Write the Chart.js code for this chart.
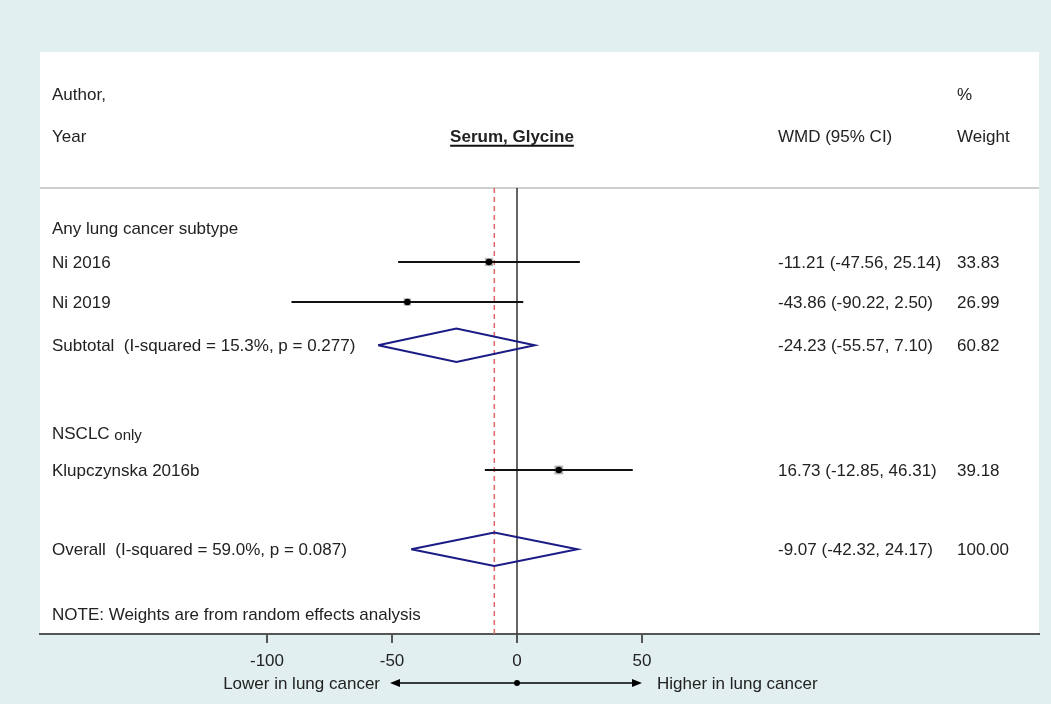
<!DOCTYPE html>
<html>
<head>
<meta charset="utf-8">
<script src="https://cdn.jsdelivr.net/npm/chart.js@4/dist/chart.umd.min.js"></script>
<style>
  html, body { margin:0; padding:0; background:#e2eff0; }
  #wrap { width:1051px; height:704px; position:relative; }
</style>
</head>
<body>
<div id="wrap"><canvas id="forest"></canvas></div>
<script>
// Forest plot: serum glycine, WMD (95% CI)
const studyLabels = ['Ni 2016', 'Ni 2019', 'Klupczynska 2016b'];
const studyEst    = [-11.21, -43.86, 16.73];
const studyLo     = [-47.56, -90.22, -12.85];
const studyHi     = [25.14, 2.50, 46.31];
const studyWeight = [33.83, 26.99, 39.18];
const studyRow    = [0.85, 1.85, 6.05];

const pooledLabels = ['Subtotal  (I-squared = 15.3%, p = 0.277)', 'Overall  (I-squared = 59.0%, p = 0.087)'];
const pooledEst    = [-24.23, -9.07];
const pooledLo     = [-55.57, -42.32];
const pooledHi     = [7.10, 24.17];
const pooledWeight = [60.82, 100.00];
const pooledRow    = [2.93, 8.03];

const groupLabels = ['Any lung cancer subtype', 'NSCLC only'];
const groupRow    = [0, 5.13];

const xTicks = [-100, -50, 0, 50];

const FONT = '"Liberation Sans", Arial, sans-serif';
const TXT = '#222';
const overall = pooledEst[pooledEst.length - 1];

const datasets = [];
// CI whiskers
studyLabels.forEach((s, i) => {
  datasets.push({ data:[{x:studyLo[i], y:studyRow[i]}, {x:studyHi[i], y:studyRow[i]}],
    showLine:true, borderColor:'#111', borderWidth:2, pointRadius:0, order:4 });
});
// weight squares
datasets.push({ data: studyEst.map((v,i)=>({x:v, y:studyRow[i]})), pointStyle:'rect',
  pointRadius: studyWeight.map(w=>Math.sqrt(w)*1.0), backgroundColor:'#b4b4b4', borderWidth:0, order:5 });
// point estimates
datasets.push({ data: studyEst.map((v,i)=>({x:v, y:studyRow[i]})), pointRadius:3.2,
  backgroundColor:'#000', borderWidth:0, order:1 });
// pooled diamonds
pooledEst.forEach((v, i) => {
  const r = pooledRow[i], h = 0.42;
  datasets.push({ data:[{x:pooledLo[i], y:r}, {x:v, y:r-h}, {x:pooledHi[i], y:r}, {x:v, y:r+h}, {x:pooledLo[i], y:r}],
    showLine:true, borderColor:'#1b1b86', borderWidth:2, pointRadius:0, order:2 });
});
// null line and overall line
datasets.push({ data:[{x:0, y:-1}, {x:0, y:10.15}], showLine:true, borderColor:'#333', borderWidth:1.5, pointRadius:0, order:6 });
datasets.push({ data:[{x:overall, y:-1}, {x:overall, y:10.15}], showLine:true, borderColor:'#dd6666',
  borderWidth:1.5, borderDash:[5,4], pointRadius:0, order:7 });

const panelPlugin = {
  id:'panel',
  beforeDraw(chart){
    const {ctx, chartArea:a} = chart;
    ctx.save();
    ctx.fillStyle = '#fff';
    ctx.fillRect(a.left, a.top, a.right - a.left, a.bottom - a.top);
    // header separator
    const ys = chart.scales.y.getPixelForValue(-1);
    ctx.strokeStyle = '#cfcfcf'; ctx.lineWidth = 2;
    ctx.beginPath(); ctx.moveTo(a.left, ys); ctx.lineTo(a.right, ys); ctx.stroke();
    ctx.restore();
  }
};

const textPlugin = {
  id:'texts',
  afterDraw(chart){
    const {ctx, chartArea:a, scales:{x, y}} = chart;
    const colL = a.left + 12, colCI = 778, colW = 957;
    ctx.save();
    ctx.fillStyle = TXT;
    ctx.textBaseline = 'middle';
    ctx.font = '17px ' + FONT;
    const put = (t, px, row, align) => { ctx.textAlign = align || 'left'; ctx.fillText(t, px, y.getPixelForValue(row) + 1); };
    // header
    put('Author,', colL, -3.33);
    put('Year', colL, -2.28);
    put('%', colW, -3.33);
    put('Weight', colW, -2.28);
    put('WMD (95% CI)', colCI, -2.28);
    ctx.font = 'bold 17px ' + FONT;
    const title = 'Serum, Glycine';
    const tx = 512, ty = y.getPixelForValue(-2.28);
    put(title, tx, -2.28, 'center');
    const tw = ctx.measureText(title).width;
    ctx.strokeStyle = '#111'; ctx.lineWidth = 2;
    ctx.beginPath(); ctx.moveTo(tx - tw/2, ty + 9); ctx.lineTo(tx + tw/2, ty + 9); ctx.stroke();
    ctx.font = '17px ' + FONT;
    // groups
    put(groupLabels[0], colL, groupRow[0]);
    put('NSCLC', colL, groupRow[1]);
    const nw = ctx.measureText('NSCLC ').width;
    ctx.font = '15px ' + FONT;
    ctx.textAlign = 'left';
    ctx.fillText('only', colL + nw, y.getPixelForValue(groupRow[1]) + 3);
    ctx.font = '17px ' + FONT;
    // studies
    const ci = (e, l, h) => `${e.toFixed(2)} (${l.toFixed(2)}, ${h.toFixed(2)})`;
    studyLabels.forEach((s, i) => {
      put(s, colL, studyRow[i]);
      put(ci(studyEst[i], studyLo[i], studyHi[i]), colCI, studyRow[i]);
      put(studyWeight[i].toFixed(2), colW, studyRow[i]);
    });
    pooledLabels.forEach((s, i) => {
      put(s, colL, pooledRow[i]);
      put(ci(pooledEst[i], pooledLo[i], pooledHi[i]), colCI, pooledRow[i]);
      put(pooledWeight[i].toFixed(2), colW, pooledRow[i]);
    });
    put('NOTE: Weights are from random effects analysis', colL, 9.65);
    // direction arrow under the axis
    const ay = 683, x1 = x.getPixelForValue(-50) - 2, x2 = x.getPixelForValue(50), x0 = x.getPixelForValue(0);
    ctx.strokeStyle = '#000'; ctx.fillStyle = '#000'; ctx.lineWidth = 1.5;
    ctx.beginPath(); ctx.moveTo(x1 + 4, ay); ctx.lineTo(x2 - 4, ay); ctx.stroke();
    ctx.beginPath(); ctx.moveTo(x1, ay); ctx.lineTo(x1 + 10, ay - 4); ctx.lineTo(x1 + 10, ay + 4); ctx.closePath(); ctx.fill();
    ctx.beginPath(); ctx.moveTo(x2, ay); ctx.lineTo(x2 - 10, ay - 4); ctx.lineTo(x2 - 10, ay + 4); ctx.closePath(); ctx.fill();
    ctx.beginPath(); ctx.arc(x0, ay, 3, 0, Math.PI*2); ctx.fill();
    ctx.fillStyle = TXT;
    ctx.textAlign = 'right'; ctx.fillText('Lower in lung cancer', x1 - 10, ay + 1);
    ctx.textAlign = 'left'; ctx.fillText('Higher in lung cancer', x2 + 15, ay + 1);
    ctx.restore();
  }
};

new Chart(document.getElementById('forest'), {
  type:'scatter',
  data:{ datasets },
  options:{
    responsive:true, maintainAspectRatio:false, animation:false,
    layout:{ padding:{ left:40, right:12, top:52, bottom:0 } },
    plugins:{ legend:{ display:false }, tooltip:{ enabled:false } },
    scales:{
      x:{
        type:'linear', min:-190.8, max:208.8,
        afterBuildTicks(scale){ scale.ticks = xTicks.map(v => ({ value:v })); },
        afterFit(scale){ scale.height = 70; },
        border:{ display:true, color:'#555', width:2 },
        grid:{ drawOnChartArea:false, drawTicks:true, tickLength:9, color:'#555', lineWidth:2 },
        ticks:{ color:TXT, font:{ family:FONT, size:17 }, padding:8, maxRotation:0 }
      },
      y:{ type:'linear', reverse:true, min:-4.4, max:10.15, display:false }
    }
  },
  plugins:[panelPlugin, textPlugin]
});
</script>
</body>
</html>
